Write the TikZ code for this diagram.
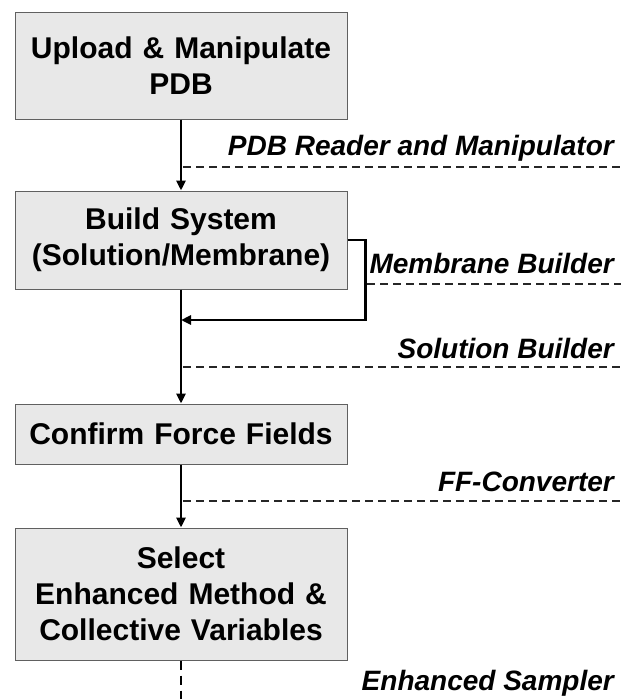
\documentclass[tikz,border=0pt]{standalone}
\usepackage{fontspec}
\setmainfont{Liberation Sans}
\usetikzlibrary{arrows.meta}
\definecolor{boxgray}{RGB}{232,232,232}
\definecolor{edgegray}{RGB}{96,96,96}

\begin{document}
\begin{tikzpicture}[x=1pt, y=-1pt,
    stagebox/.style={draw=edgegray, line width=1pt, fill=boxgray,
      minimum width=332pt, text width=320pt, align=center, inner sep=0pt,
      font=\fontsize{30}{36}\selectfont\bfseries},
    toolname/.style={anchor=base east, inner sep=0pt,
      font=\fontsize{28}{32}\selectfont\bfseries\itshape},
    flow/.style={line width=2.5pt, -{Triangle[length=10pt,width=9pt]}},
    toolline/.style={draw=black!85, line width=1.8pt, dash pattern=on 8pt off 5pt}]
    \useasboundingbox (0,0) rectangle (621,699);
    % Workflow stages
    \node[stagebox, minimum height=107pt] (upload) at (181,65.5)
      {Upload \& Manipulate\\PDB};
    \node[stagebox, minimum height=98pt] (build) at (181,240)
      {Build System\\(Solution/Membrane)};
    \node[stagebox, minimum height=60pt] (confirm) at (181,434)
      {Confirm Force Fields};
    \node[stagebox, minimum height=132pt] (select) at (181,594)
      {Select\\Enhanced Method \&\\Collective Variables};
    % Main flow
    \draw[flow] (upload.south) -- (build.north);
    \draw[flow] (build.south) -- (confirm.north);
    \draw[flow] (confirm.south) -- (select.north);
    % Membrane branch rejoins the main line
    \coordinate (merge) at (build.south |- 0,320);
    \draw[flow] (build.east) -- ++(18,0) |- (merge);
    % Last step continues off the page
    \coordinate (tail) at (181,704);
    \draw[line width=2.5pt, dash pattern=on 9pt off 6pt] (select.south) -- (tail);
    % Tool leader lines
    \foreach \name/\x/\y in {pdb/183/167, mem/367/284, sol/183/367, ff/183/501} {
      \coordinate (\name-from) at (\x,\y);
      \coordinate (\name-to) at (621,\y);
      \draw[toolline] (\name-from) -- (\name-to);
    }
    % Tool names
    \node[toolname] (pdbtool) at (614,155) {PDB Reader and Manipulator};
    \node[toolname] (memtool) at (614,273) {Membrane Builder};
    \node[toolname] (soltool) at (614,358) {Solution Builder};
    \node[toolname] (fftool) at (614,491) {FF-Converter};
    \node[toolname] (enhtool) at (614,690) {Enhanced Sampler};
  \end{tikzpicture}
\end{document}
